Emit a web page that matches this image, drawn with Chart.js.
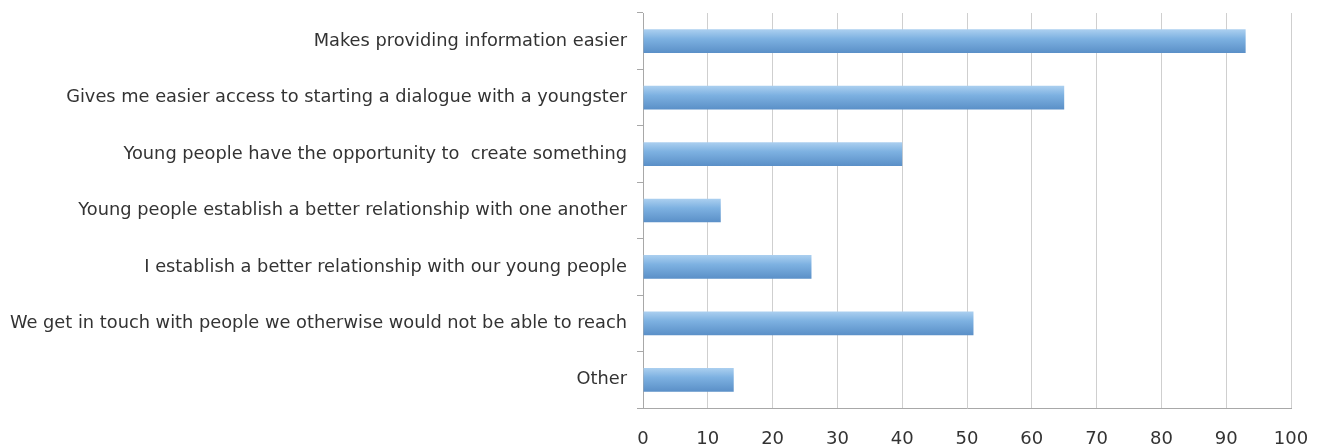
<!DOCTYPE html>
<html>
<head>
<meta charset="utf-8">
<script src="https://cdn.jsdelivr.net/npm/chart.js@4/dist/chart.umd.min.js"></script>
<style>
  html, body { margin: 0; padding: 0; background: #fff; }
  #wrap { width: 1322px; height: 448px; position: relative; }
</style>
</head>
<body>
<div id="wrap"><canvas id="grafico"></canvas></div>
<script>
// categorias y valores (porcentaje)
const categorias = [
  "Makes providing information easier",
  "Gives me easier access to starting a dialogue with a youngster",
  "Young people have the opportunity to  create something",
  "Young people establish a better relationship with one another",
  "I establish a better relationship with our young people",
  "We get in touch with people we otherwise would not be able to reach",
  "Other"
];
const valores = [93, 65, 40, 12, 26, 51, 14];
const ticksX = [0, 10, 20, 30, 40, 50, 60, 70, 80, 90, 100];

// relleno degradado de cada barra
const rellenoBarra = (ctx) => {
  const chart = ctx.chart;
  const escalaY = chart.scales && chart.scales.y;
  if (!escalaY || ctx.type !== "data") return "#7fb1e0";
  const yc = escalaY.getPixelForValue(ctx.dataIndex);
  if (!isFinite(yc)) return "#7fb1e0";
  const g = chart.ctx.createLinearGradient(0, yc - 12, 0, yc + 12);
  g.addColorStop(0, "#acd0f0");
  g.addColorStop(0.4, "#7db1e1");
  g.addColorStop(1, "#5a8fc7");
  return g;
};

new Chart(document.getElementById("grafico"), {
  type: "bar",
  data: {
    labels: categorias,
    datasets: [{
      data: valores,
      backgroundColor: rellenoBarra,
      borderWidth: 0,
      categoryPercentage: 1,
      barPercentage: 0.42
    }]
  },
  options: {
    indexAxis: "y",
    responsive: true,
    maintainAspectRatio: false,
    animation: false,
    layout: { padding: { top: 13, right: 31, left: 0, bottom: 0 } },
    plugins: { legend: { display: false }, tooltip: { enabled: false } },
    scales: {
      x: {
        min: 0,
        max: 100,
        afterBuildTicks: (s) => { s.ticks = ticksX.map((v) => ({ value: v })); },
        afterFit: (s) => {
          s.height = 40;
          s.paddingLeft = 0;
          s.paddingRight = 0;
        },
        grid: { color: "#cfcfcf", lineWidth: 1, drawTicks: false },
        border: { color: "#a8a8a8", width: 1 },
        ticks: {
          padding: 21,
          color: "#333",
          font: { family: "DejaVu Sans", size: 18 }
        }
      },
      y: {
        afterFit: (s) => {
          s.width = 643;
          s.paddingTop = 0;
          s.paddingBottom = 0;
        },
        grid: { drawOnChartArea: false, drawTicks: true, tickLength: 6, color: "#a8a8a8" },
        border: { color: "#a8a8a8", width: 1 },
        ticks: {
          padding: 10,
          color: "#333",
          autoSkip: false,
          font: { family: "DejaVu Sans", size: 17.8 }
        }
      }
    }
  }
});
</script>
</body>
</html>
